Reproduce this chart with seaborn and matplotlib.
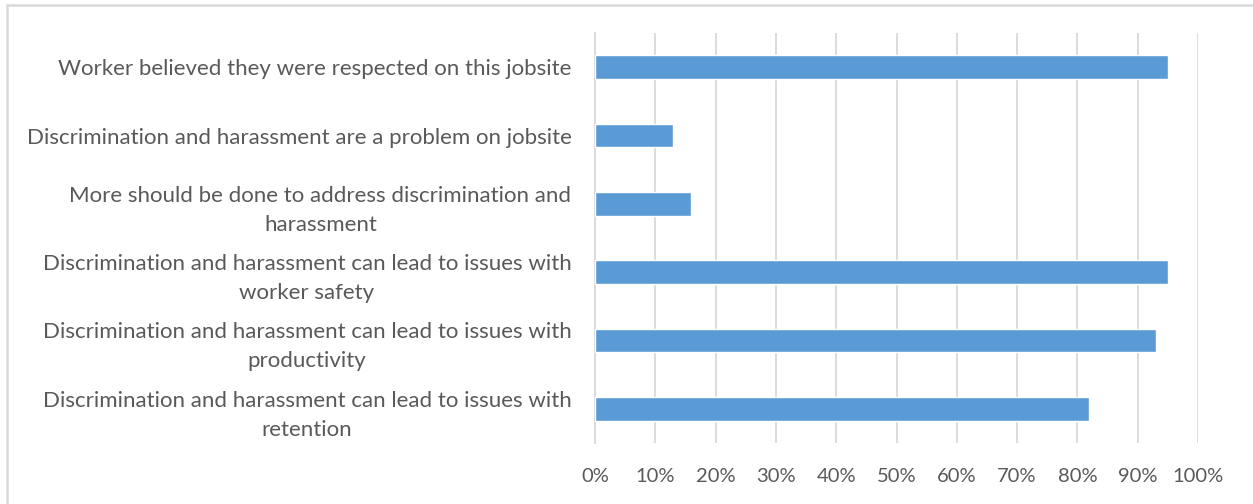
import matplotlib
matplotlib.use("Agg")
import matplotlib.pyplot as plt
import matplotlib.patches as mpatches
from matplotlib.ticker import FuncFormatter, MultipleLocator
import pandas as pd
import seaborn as sns

statements = [
    "Worker believed they were respected on this jobsite",
    "Discrimination and harassment are a problem on jobsite",
    "More should be done to address discrimination and\nharassment",
    "Discrimination and harassment can lead to issues with\nworker safety",
    "Discrimination and harassment can lead to issues with\nproductivity",
    "Discrimination and harassment can lead to issues with\nretention",
]
share_agree = [95, 13, 16, 95, 93, 82]

df = pd.DataFrame({"statement": statements, "share": share_agree})

sns.set_theme(style="white")
plt.rcParams["font.family"] = ["Lato", "DejaVu Sans"]

text_color = "#595959"
grid_color = "#D9D9D9"
bar_color = "#5B9BD5"

fig = plt.figure(figsize=(12.53, 5.04), dpi=100)
ax = fig.add_axes([595 / 1253, 61 / 504, 603 / 1253, 410 / 504])

sns.barplot(data=df, x="share", y="statement", orient="h", color=bar_color,
            width=0.35, saturation=1, ax=ax, zorder=3)

ax.set_xlim(0, 100)
ax.xaxis.set_major_locator(MultipleLocator(10))
ax.xaxis.set_major_formatter(FuncFormatter(lambda v, _: f"{v:.0f}%"))
ax.set_xlabel("")
ax.set_ylabel("")

ax.grid(axis="x", color=grid_color, linewidth=1.3, zorder=0)
ax.grid(axis="y", visible=False)
for side in ["top", "right", "bottom"]:
    ax.spines[side].set_visible(False)
ax.spines["left"].set_color(grid_color)
ax.spines["left"].set_linewidth(1.3)

ax.tick_params(axis="both", length=0, colors=text_color)
ax.tick_params(axis="y", pad=17, labelsize=16)
ax.tick_params(axis="x", pad=18, labelsize=14.5)
for t in ax.get_yticklabels():
    t.set_multialignment("center")
    t.set_linespacing(1.55)

# light chart border
fig.patches.append(mpatches.Rectangle((7 / 1253, -0.05), 1.2, (504 - 4.5) / 504 + 0.05,
                                      transform=fig.transFigure, fill=False,
                                      edgecolor=grid_color, linewidth=1.8))

fig.savefig("out.png", dpi=100)
